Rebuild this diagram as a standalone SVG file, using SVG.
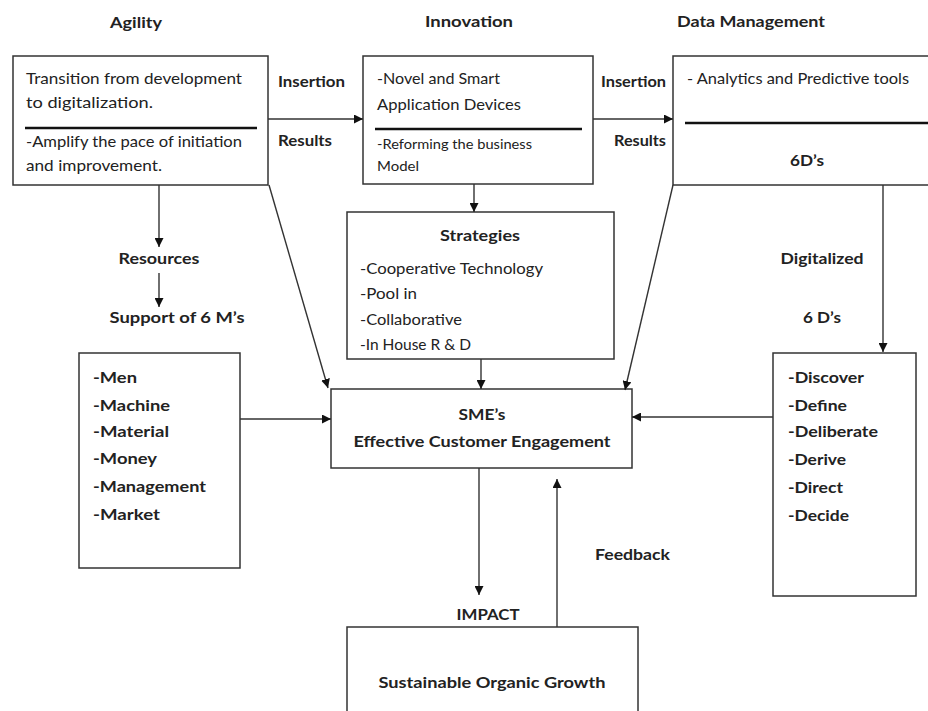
<svg xmlns="http://www.w3.org/2000/svg" width="928" height="711" viewBox="0 0 928 711">
<defs>
<marker id="ah" viewBox="0 0 10 10" refX="10" refY="5" markerWidth="9" markerHeight="9" markerUnits="userSpaceOnUse" orient="auto">
<path d="M0,0 L10,5 L0,10 z" fill="#111"/>
</marker>
</defs>
<style>
text{font-family:Lato,"Liberation Sans",sans-serif;fill:#222;}
.b{font-weight:700;}
.r{font-weight:400;}
.t{font-size:16px;}
.box{fill:#fff;stroke:#333;stroke-width:1.5;}
.div{stroke:#111;stroke-width:2.5;}
.c line{stroke:#333;stroke-width:1.4;marker-end:url(#ah);}
.mid{text-anchor:middle;}
</style>
<rect width="928" height="711" fill="#fff"/>

<g id="titles" class="b t">
<text x="136" y="28" class="mid" textLength="52" lengthAdjust="spacingAndGlyphs">Agility</text>
<text x="469" y="27" class="mid" textLength="88" lengthAdjust="spacingAndGlyphs">Innovation</text>
<text x="677" y="27" textLength="148" lengthAdjust="spacingAndGlyphs">Data Management</text>
</g>

<g id="agility">
<rect class="box" x="13" y="56" width="255" height="129"/>
<line class="div" x1="25" y1="128" x2="257" y2="128"/>
<g class="r t">
<text x="26" y="84" textLength="216" lengthAdjust="spacingAndGlyphs">Transition from development</text>
<text x="26" y="108" textLength="127" lengthAdjust="spacingAndGlyphs">to digitalization.</text>
<text x="26" y="147" textLength="216" lengthAdjust="spacingAndGlyphs">-Amplify the pace of initiation</text>
<text x="26" y="171" textLength="136" lengthAdjust="spacingAndGlyphs">and improvement.</text>
</g>
</g>

<g id="innovation">
<rect class="box" x="363" y="56" width="230" height="128"/>
<line class="div" x1="375" y1="129" x2="582" y2="129"/>
<g class="r">
<text x="377" y="84" font-size="16" textLength="123" lengthAdjust="spacingAndGlyphs">-Novel and Smart</text>
<text x="377" y="110" font-size="16" textLength="144" lengthAdjust="spacingAndGlyphs">Application Devices</text>
<text x="377" y="149" font-size="13" textLength="155" lengthAdjust="spacingAndGlyphs">-Reforming the business</text>
<text x="377" y="171" font-size="13" textLength="42" lengthAdjust="spacingAndGlyphs">Model</text>
</g>
</g>

<g id="data-management">
<rect class="box" x="673" y="56" width="270" height="129"/>
<line class="div" x1="685" y1="123" x2="940" y2="123"/>
<text x="687" y="84" class="r t" textLength="222" lengthAdjust="spacingAndGlyphs">- Analytics and Predictive tools</text>
<text x="807" y="166" class="b t mid" textLength="34" lengthAdjust="spacingAndGlyphs">6D’s</text>
</g>

<g id="strategies">
<rect class="box" x="347" y="212" width="267" height="147"/>
<text x="480" y="241" class="b t mid" textLength="80" lengthAdjust="spacingAndGlyphs">Strategies</text>
<g class="r t">
<text x="360" y="274" textLength="183" lengthAdjust="spacingAndGlyphs">-Cooperative Technology</text>
<text x="360" y="299" textLength="57" lengthAdjust="spacingAndGlyphs">-Pool in</text>
<text x="360" y="325" textLength="102" lengthAdjust="spacingAndGlyphs">-Collaborative</text>
<text x="360" y="350" textLength="111" lengthAdjust="spacingAndGlyphs">-In House R &amp; D</text>
</g>
</g>

<g id="sme">
<rect class="box" x="331" y="389" width="301" height="79"/>
<text x="482" y="420" class="b t mid" textLength="47" lengthAdjust="spacingAndGlyphs">SME’s</text>
<text x="482" y="447" class="b t mid" textLength="257" lengthAdjust="spacingAndGlyphs">Effective Customer Engagement</text>
</g>

<g id="six-m">
<rect class="box" x="79" y="353" width="161" height="215"/>
<g class="b t">
<text x="93" y="383" textLength="44" lengthAdjust="spacingAndGlyphs">-Men</text>
<text x="93" y="411" textLength="77" lengthAdjust="spacingAndGlyphs">-Machine</text>
<text x="93" y="437" textLength="76" lengthAdjust="spacingAndGlyphs">-Material</text>
<text x="93" y="464" textLength="64" lengthAdjust="spacingAndGlyphs">-Money</text>
<text x="93" y="492" textLength="113" lengthAdjust="spacingAndGlyphs">-Management</text>
<text x="93" y="520" textLength="67" lengthAdjust="spacingAndGlyphs">-Market</text>
</g>
</g>

<g id="six-d">
<rect class="box" x="773" y="353" width="143" height="243"/>
<g class="b t">
<text x="788" y="383" textLength="76" lengthAdjust="spacingAndGlyphs">-Discover</text>
<text x="788" y="411" textLength="59" lengthAdjust="spacingAndGlyphs">-Define</text>
<text x="788" y="437" textLength="90" lengthAdjust="spacingAndGlyphs">-Deliberate</text>
<text x="788" y="465" textLength="58" lengthAdjust="spacingAndGlyphs">-Derive</text>
<text x="788" y="493" textLength="55" lengthAdjust="spacingAndGlyphs">-Direct</text>
<text x="788" y="521" textLength="61" lengthAdjust="spacingAndGlyphs">-Decide</text>
</g>
</g>

<g id="growth">
<rect class="box" x="347" y="627" width="291" height="100"/>
<text x="492" y="688" class="b t mid" textLength="227" lengthAdjust="spacingAndGlyphs">Sustainable Organic Growth</text>
</g>

<g id="labels" class="b t">
<text x="278" y="87" textLength="67" lengthAdjust="spacingAndGlyphs">Insertion</text>
<text x="278" y="146" textLength="54" lengthAdjust="spacingAndGlyphs">Results</text>
<text x="601" y="87" textLength="65" lengthAdjust="spacingAndGlyphs">Insertion</text>
<text x="614" y="146" textLength="52" lengthAdjust="spacingAndGlyphs">Results</text>
<text x="159" y="264" class="mid" textLength="81" lengthAdjust="spacingAndGlyphs">Resources</text>
<text x="177" y="323" class="mid" textLength="135" lengthAdjust="spacingAndGlyphs">Support of 6 M’s</text>
<text x="822" y="264" class="mid" textLength="83" lengthAdjust="spacingAndGlyphs">Digitalized</text>
<text x="822" y="323" class="mid" textLength="38" lengthAdjust="spacingAndGlyphs">6 D’s</text>
<text x="595" y="560" textLength="75" lengthAdjust="spacingAndGlyphs">Feedback</text>
<text x="488" y="620" class="mid" textLength="63" lengthAdjust="spacingAndGlyphs">IMPACT</text>
</g>

<g id="connectors" class="c">
<line x1="268" y1="119" x2="363" y2="119"/>
<line x1="593" y1="119" x2="673" y2="119"/>
<line x1="159" y1="185" x2="159" y2="247"/>
<line x1="159" y1="273" x2="159" y2="307"/>
<line x1="269" y1="185" x2="328" y2="388"/>
<line x1="474" y1="184" x2="474" y2="212"/>
<line x1="481" y1="359" x2="481" y2="389"/>
<line x1="673" y1="185" x2="625" y2="390"/>
<line x1="883" y1="185" x2="883" y2="352"/>
<line x1="240" y1="419" x2="331" y2="419"/>
<line x1="773" y1="417" x2="632" y2="417"/>
<line x1="479" y1="468" x2="479" y2="595"/>
<line x1="557" y1="627" x2="557" y2="479"/>
</g>
</svg>
